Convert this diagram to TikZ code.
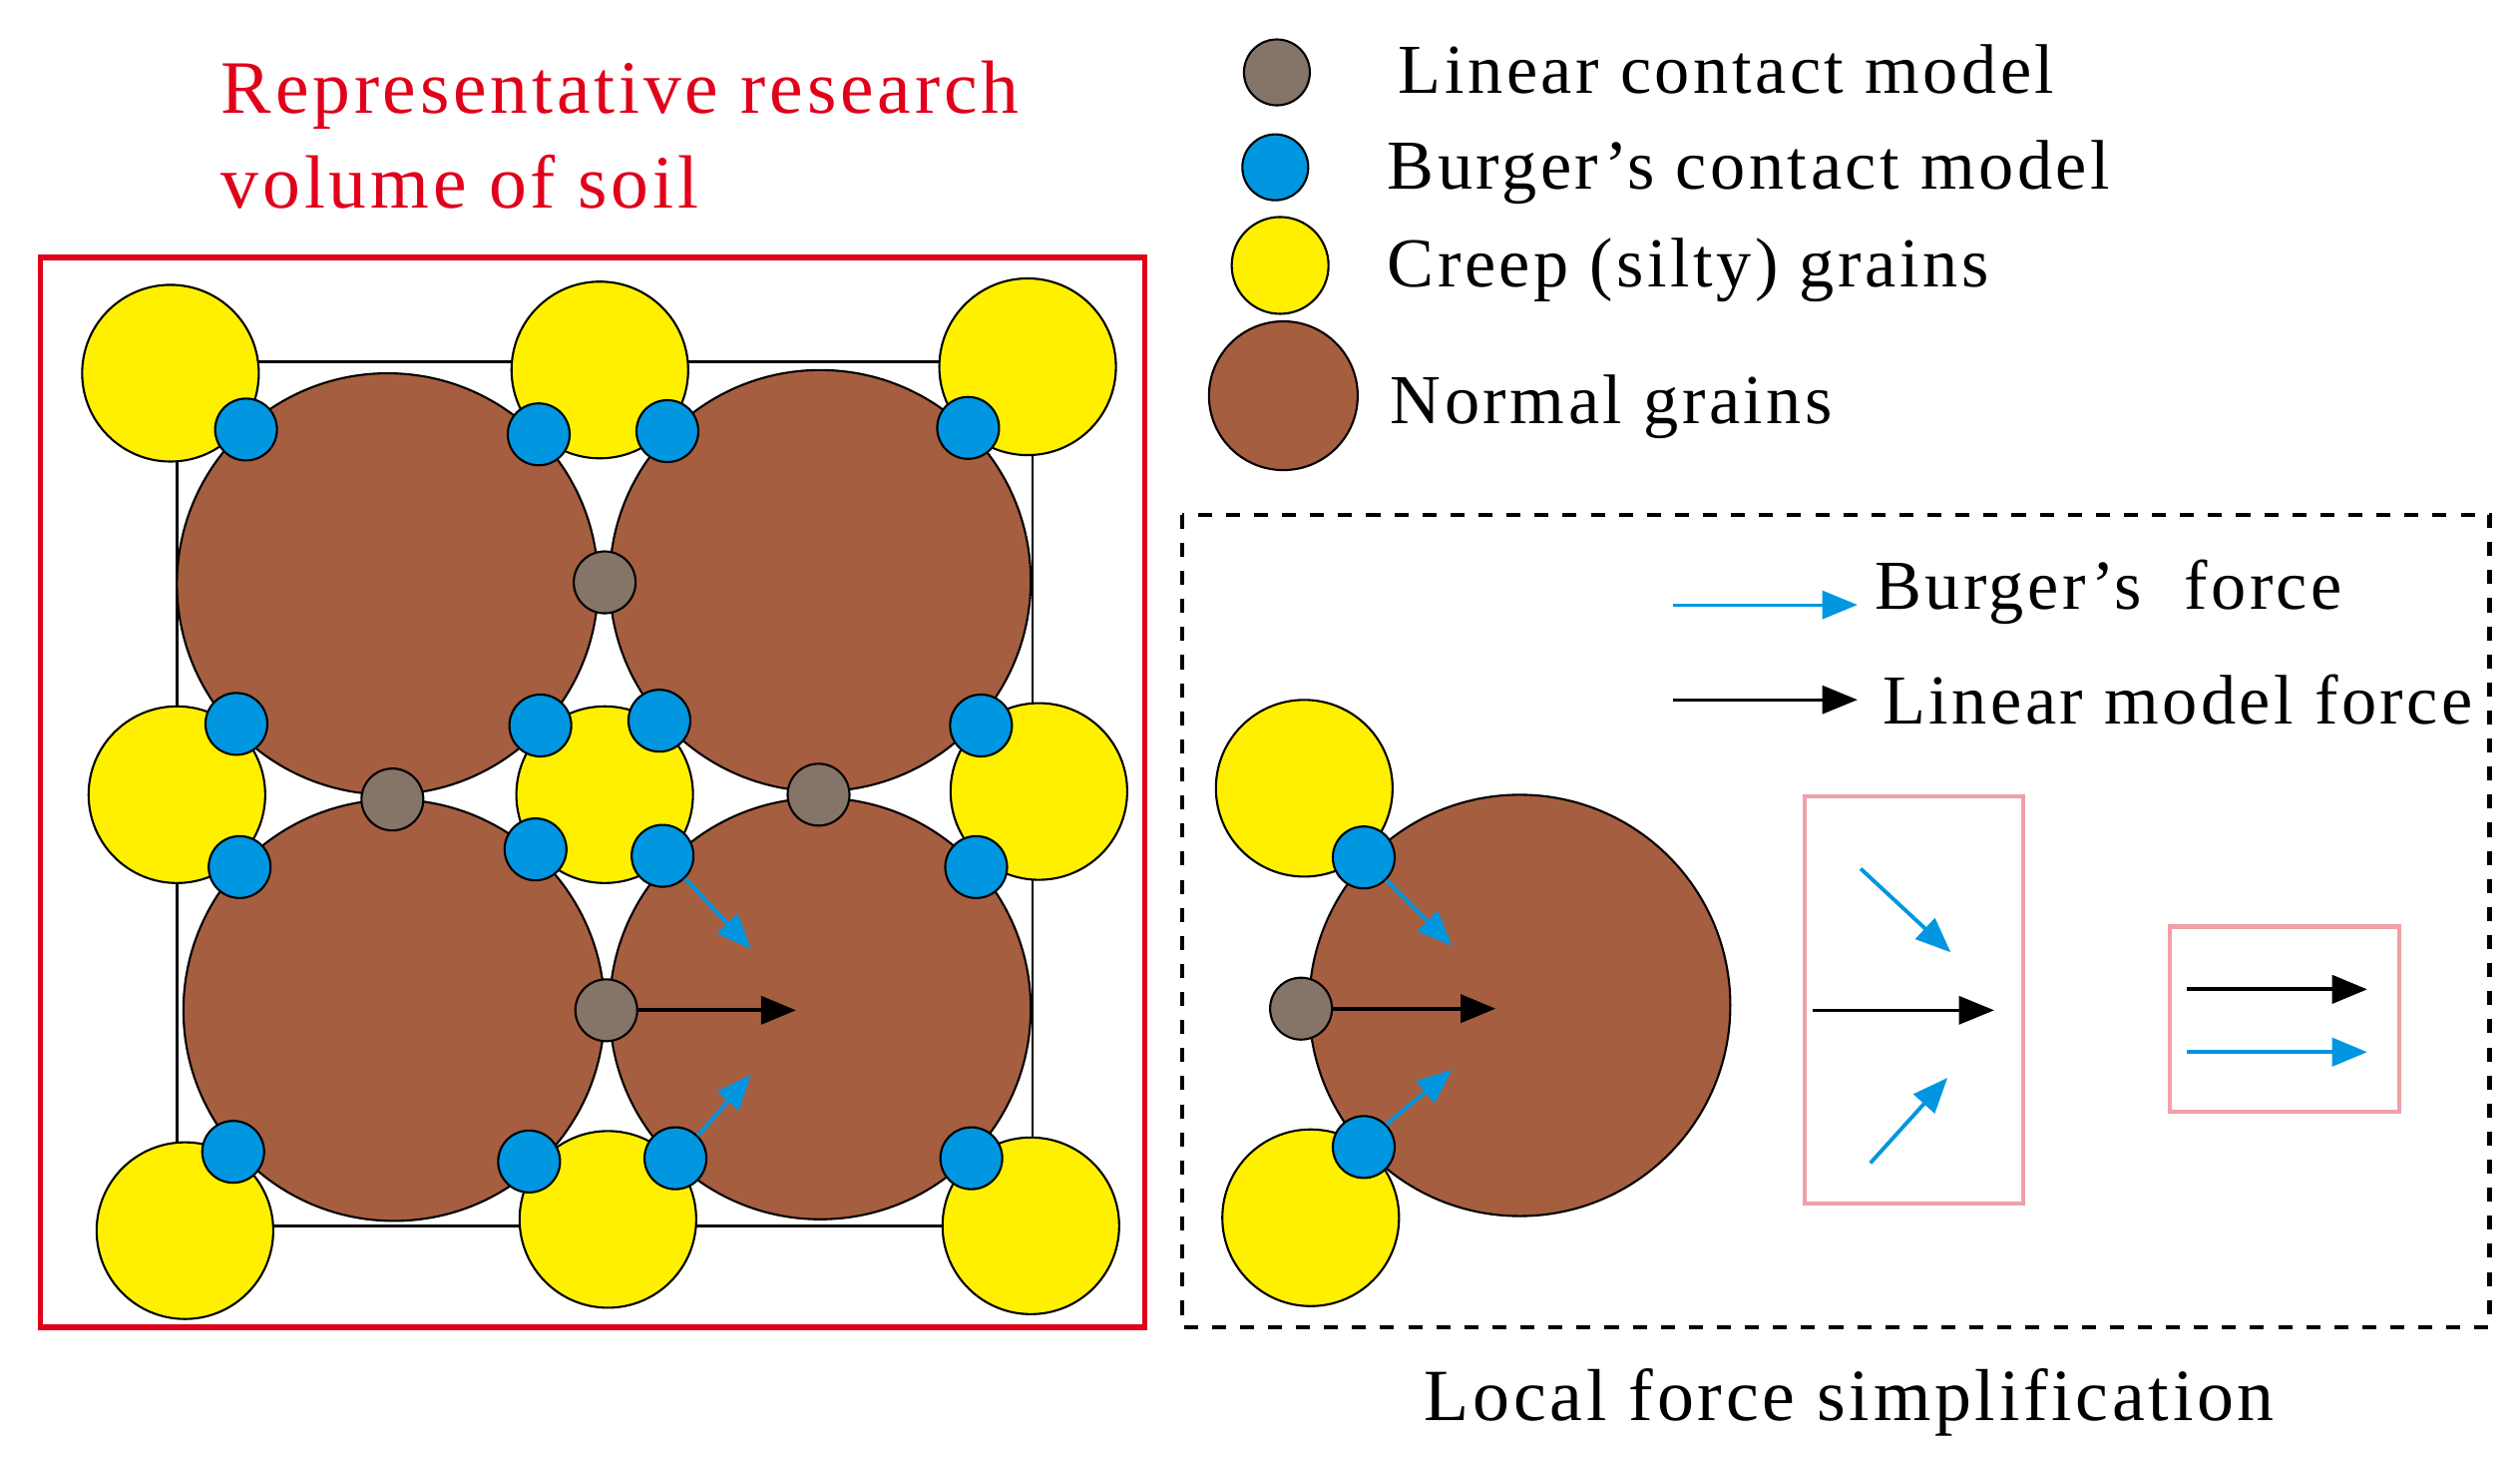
\documentclass[tikz,border=0pt]{standalone}
\usepackage{fontspec}
\setmainfont{Liberation Serif}[LetterSpace=5]
\usetikzlibrary{arrows.meta}
\definecolor{brn}{HTML}{A65E40}
\definecolor{ylw}{HTML}{FFF000}
\definecolor{blu}{HTML}{0096E0}
\definecolor{gry}{HTML}{857468}
\definecolor{rd}{HTML}{E0001A}
\definecolor{pnk}{HTML}{F0A0A8}
\begin{document}
\begin{tikzpicture}[x=0.01612cm,y=-0.01612cm,
  grain/.style={circle,draw=black,line width=0.6pt,fill=brn,inner sep=0pt,minimum size=4.22cm},
  creep/.style={circle,draw=black,line width=0.6pt,fill=ylw,inner sep=0pt,minimum size=1.77cm},
  bc/.style={circle,draw=black,line width=0.6pt,fill=blu,inner sep=0pt,minimum size=0.62cm},
  lc/.style={circle,draw=black,line width=0.6pt,fill=gry,inner sep=0pt,minimum size=0.62cm},
  barr/.style={-{Triangle[length=10pt,width=8pt]},blu,line width=1.1pt},
  karr/.style={-{Triangle[length=10pt,width=8pt]},black,line width=1.1pt},
  lbl/.style={anchor=west,font=\fontsize{20}{23}\selectfont},
  box/.style={draw=pnk,line width=1.2pt}]
\useasboundingbox (0,0) rectangle (1567,907);
\node[anchor=west,text=rd,align=left,font=\fontsize{21.5}{27}\selectfont] (title) at (130,84) {Representative research\\volume of soil};
\draw[rd,line width=1.5pt] (25,160) rectangle (712,825);
\draw[line width=0.8pt] (110,225) rectangle (642,762);
\foreach \n/\x/\y in {y1/106/232,y2/373/230,y3/639/228,y4/110/494,y5/376/494,y6/646/492,y7/115/765,y8/378/758,y9/641/762}
  \node[creep] (\n) at (\x,\y) {};
\foreach \n/\x/\y in {g1/241/363,g2/510/361,g3/245/628,g4/510/627}
  \node[grain] (\n) at (\x,\y) {};
\foreach \n/\x/\y in {b1/153/267,b2/335/270,b3/415/268,b4/602/266,b5/147/450,b6/336/451,b7/410/448,b8/610/451,b9/149/539,b10/333/528,b11/412/532,b12/607/539,b13/145/716,b14/329/722,b15/420/720,b16/604/720}
  \node[bc] (\n) at (\x,\y) {};
\foreach \n/\x/\y in {l1/376/362,l2/244/497,l3/509/494,l4/377/628}
  \node[lc] (\n) at (\x,\y) {};
\coordinate (e1) at (495,628); \coordinate (e2) at (467,590); \coordinate (e3) at (467,668);
\draw[karr] (l4.east) -- (e1);
\draw[barr] (b11.south east) -- (e2);
\draw[barr] (b15.north east) -- (e3);
% legend
\node[lc,minimum size=0.66cm] (k1) at (794,45) {};
\node[bc,minimum size=0.66cm] (k2) at (793,104) {};
\node[creep,minimum size=0.97cm] (k3) at (796,165) {};
\node[grain,minimum size=1.49cm] (k4) at (798,246) {};
\node[lbl] (t1) at (862,43) {Linear contact model};
\node[lbl] (t2) at (855,107) {Burger’s contact model};
\node[lbl] (t3) at (855,168) {Creep (silty) grains};
\node[lbl] (t4) at (857,253) {Normal grains};
% local
\draw[line width=1.2pt,dash pattern=on 4pt off 4pt] (735,320) rectangle (1548,825);
\coordinate (a1) at (1040,376); \coordinate (a2) at (1155,376);
\coordinate (a3) at (1040,435); \coordinate (a4) at (1155,435);
\draw[barr,line width=0.8pt] (a1) -- (a2);
\draw[karr,line width=0.8pt] (a3) -- (a4);
\node[lbl] (t5) at (1158,368) {Burger’s\ \ force};
\node[lbl] (t6) at (1163,435) {Linear model force};
\node[creep] (ry1) at (811,490) {};
\node[creep] (ry2) at (815,757) {};
\node[grain] (rg) at (945,625) {};
\node[bc] (rb1) at (848,533) {};
\node[bc] (rb2) at (848,713) {};
\node[lc] (rl) at (809,627) {};
\coordinate (f1) at (930,627); \coordinate (f2) at (903,588); \coordinate (f3) at (903,665);
\draw[karr] (rl.east) -- (f1);
\draw[barr] (rb1.south east) -- (f2);
\draw[barr] (rb2.north east) -- (f3);
\draw[box] (1122,495) rectangle (1258,748);
\coordinate (p1) at (1157,540); \coordinate (p2) at (1213,592);
\coordinate (p3) at (1127,628); \coordinate (p4) at (1240,628);
\coordinate (p5) at (1163,723); \coordinate (p6) at (1211,670);
\draw[barr] (p1) -- (p2);
\draw[karr,line width=0.8pt] (p3) -- (p4);
\draw[barr] (p5) -- (p6);
\draw[box] (1349,576) rectangle (1492,691);
\coordinate (q1) at (1360,615); \coordinate (q2) at (1472,615);
\coordinate (q3) at (1360,654); \coordinate (q4) at (1472,654);
\draw[karr] (q1) -- (q2);
\draw[barr] (q3) -- (q4);
\node[font=\fontsize{21}{24}\selectfont] (t7) at (1150,872) {Local force simplification};
\end{tikzpicture}
\end{document}
